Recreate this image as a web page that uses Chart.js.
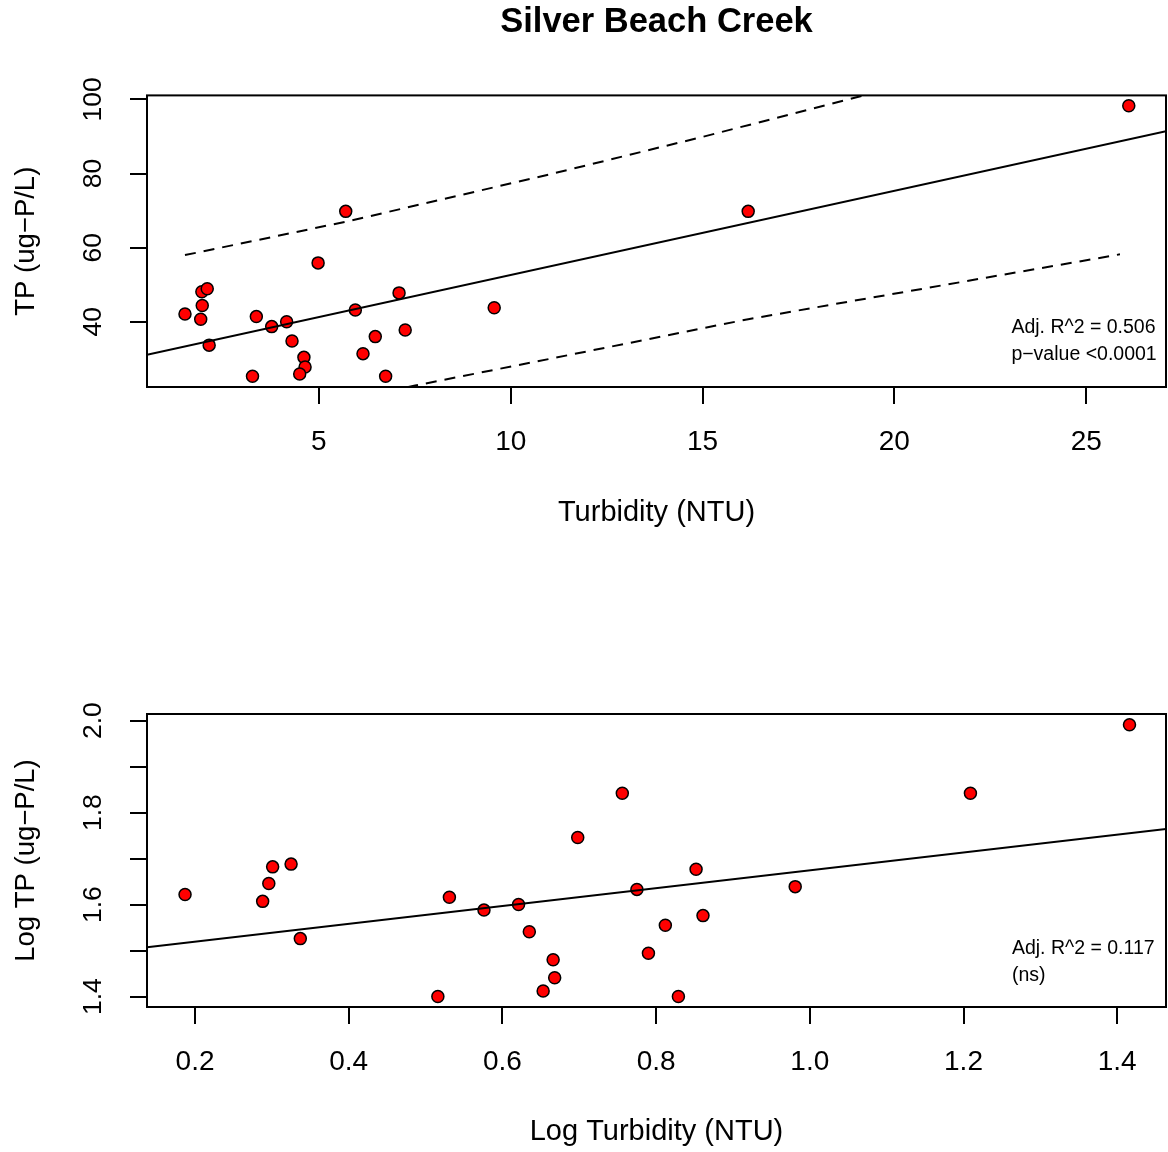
<!DOCTYPE html>
<html>
<head>
<meta charset="utf-8">
<script src="https://cdn.jsdelivr.net/npm/chart.js@4"></script>
<style>
  body { margin: 0; background: #fff; }
  .panel { position: absolute; left: 0; width: 1168px; height: 576px; }
</style>
</head>
<body>
<div class="panel" style="top:0"><canvas id="chartTop" width="1168" height="576"></canvas></div>
<div class="panel" style="top:576px"><canvas id="chartBottom" width="1168" height="576"></canvas></div>
<script>
// raw values
const turbidity = [1.51, 1.92, 1.96, 1.95, 2.09, 2.14, 3.27, 3.37, 3.77, 4.16, 4.30, 4.61, 4.64, 4.50, 4.98, 5.70, 5.95, 6.15, 6.47, 6.74, 7.09, 7.25, 9.57, 16.19, 26.11];
const tp = [42.1, 40.7, 44.4, 48.1, 48.9, 33.7, 25.3, 41.4, 38.7, 40.0, 34.8, 30.4, 27.8, 25.9, 55.9, 69.8, 43.2, 31.4, 36.0, 25.3, 47.8, 37.8, 43.8, 69.8, 98.3];

const logTurbidity = [0.187, 0.288, 0.296, 0.301, 0.325, 0.337, 0.516, 0.531, 0.576, 0.621, 0.635, 0.666, 0.668, 0.653, 0.698, 0.756, 0.775, 0.790, 0.812, 0.829, 0.852, 0.861, 0.981, 1.209, 1.416];
const logTp = [1.622, 1.607, 1.646, 1.682, 1.688, 1.526, 1.400, 1.616, 1.588, 1.600, 1.541, 1.480, 1.441, 1.412, 1.746, 1.842, 1.633, 1.494, 1.555, 1.400, 1.677, 1.576, 1.639, 1.842, 1.991];

// fitted line and prediction band
const fitX = [0.52, 27.08];
const fitY = [31.1, 91.4];
const upperX = [1.51, 5.70, 11.02, 15.0, 19.2, 25.88];
const upperY = [58.0, 67.0, 79.8, 89.9, 101.1, 119.1];
const lowerX = [1.51, 7.51, 11.02, 16.19, 25.88];
const lowerY = [8.6, 22.8, 30.0, 40.7, 58.2];

const logFitX = [0.1375, 1.4635];
const logFitY = [1.5074, 1.7645];

// axes
const xTicksTop = [5, 10, 15, 20, 25];
const yTicksTop = [40, 60, 80, 100];
const yLabelsTop = ['40', '60', '80', '100'];
const xTicksBottom = [0.2, 0.4, 0.6, 0.8, 1.0, 1.2, 1.4];
const xLabelsBottom = ['0.2', '0.4', '0.6', '0.8', '1.0', '1.2', '1.4'];
const yTicksBottom = [1.4, 1.5, 1.6, 1.7, 1.8, 1.9, 2.0];
const yLabelsBottom = ['1.4', '', '1.6', '', '1.8', '', '2.0'];

const notesTop = ['Adj. R^2 = 0.506', 'p\u2212value <0.0001'];
const notesBottom = ['Adj. R^2 = 0.117', '(ns)'];

const FONT = '"Liberation Sans", Arial, Helvetica, sans-serif';
Chart.defaults.font.family = FONT;
Chart.defaults.color = '#000';

function pts(xs, ys) {
    return xs.map((x, i) => ({ x: x, y: ys[i] }));
}

// box around plot region, rotated y labels, notes
const rStyle = {
    id: 'rStyle',
    afterDraw(chart, args, opts) {
        const ctx = chart.ctx;
        const a = chart.chartArea;
        const sx = chart.scales.x, sy = chart.scales.y;
        ctx.save();
        ctx.strokeStyle = '#000';
        ctx.lineWidth = 2;
        ctx.strokeRect(a.left, a.top, a.right - a.left, a.bottom - a.top);

        ctx.fillStyle = '#000';
        ctx.font = '26.5px ' + FONT;
        ctx.textAlign = 'center';
        ctx.textBaseline = 'middle';
        opts.yLabels.forEach(function (lab, i) {
            if (!lab) return;
            const y = sy.getPixelForValue(opts.yTicks[i]);
            ctx.save();
            ctx.translate(a.left - 53, y);
            ctx.rotate(-Math.PI / 2);
            ctx.fillText(lab, 0, 0);
            ctx.restore();
        });

        ctx.font = '19.5px ' + FONT;
        ctx.textAlign = 'left';
        opts.notes.forEach(function (line, i) {
            ctx.fillText(line, sx.getPixelForValue(opts.noteX), sy.getPixelForValue(opts.noteY[i]));
        });
        ctx.restore();
    }
};

function makeChart(id, cfg) {
    const tickGrid = { display: true, drawOnChartArea: false, drawTicks: true, tickLength: 17, color: '#000', lineWidth: 2 };
    const datasets = [
        {
            data: pts(cfg.px, cfg.py),
            backgroundColor: '#ff0000',
            borderColor: '#000',
            borderWidth: 1.5,
            pointRadius: 6,
            order: 1
        }
    ];
    cfg.lines.forEach(function (l) {
        datasets.push({
            data: pts(l.x, l.y),
            showLine: true,
            pointRadius: 0,
            borderColor: '#000',
            borderWidth: 2,
            borderDash: l.dash || [],
            fill: false,
            clip: 0,
            order: 0
        });
    });
    return new Chart(document.getElementById(id), {
        type: 'scatter',
        data: { datasets: datasets },
        plugins: [rStyle],
        options: {
            responsive: false,
            animation: false,
            devicePixelRatio: 1,
            layout: { autoPadding: false, padding: cfg.padding },
            plugins: {
                legend: { display: false },
                tooltip: { enabled: false },
                title: cfg.title,
                rStyle: { yLabels: cfg.yLabels, yTicks: cfg.yTicks, notes: cfg.notes, noteX: cfg.noteX, noteY: cfg.noteY }
            },
            scales: {
                x: {
                    type: 'linear',
                    min: cfg.xMin, max: cfg.xMax,
                    afterBuildTicks: function (s) { s.ticks = cfg.xTicks.map(v => ({ value: v })); },
                    afterFit: function (s) {
                        s.height = cfg.xAxisHeight;
                        s.paddingLeft = 0; s.paddingRight = 0;
                    },
                    ticks: {
                        autoSkip: false, maxRotation: 0, padding: 21,
                        font: { size: 28 },
                        callback: function (v, i) { return cfg.xLabels[i]; }
                    },
                    grid: tickGrid,
                    border: { display: false },
                    title: { display: true, text: cfg.xTitle, font: { size: 29 }, padding: { top: 0, bottom: cfg.xTitlePad } }
                },
                y: {
                    type: 'linear',
                    min: cfg.yMin, max: cfg.yMax,
                    afterBuildTicks: function (s) { s.ticks = cfg.yTicks.map(v => ({ value: v })); },
                    afterFit: function (s) {
                        s.width = 147;
                        s.paddingTop = 0; s.paddingBottom = 0;
                    },
                    ticks: { display: false },
                    grid: tickGrid,
                    border: { display: false },
                    title: { display: true, text: cfg.yTitle, font: { size: 27.5 }, padding: { top: 10, bottom: 0 } }
                }
            }
        }
    });
}

makeChart('chartTop', {
    px: turbidity, py: tp,
    lines: [
        { x: fitX, y: fitY },
        { x: upperX, y: upperY, dash: [11, 8] },
        { x: lowerX, y: lowerY, dash: [11, 8] }
    ],
    xMin: 0.52, xMax: 27.08, yMin: 22.4, yMax: 101.1,
    xTicks: xTicksTop, xLabels: xTicksTop.map(String),
    yTicks: yTicksTop, yLabels: yLabelsTop,
    xTitle: 'Turbidity (NTU)', yTitle: 'TP (ug\u2212P/L)',
    xAxisHeight: 189, xTitlePad: 46,
    padding: { left: 0, right: 2, top: 0, bottom: 0 },
    title: {
        display: true, text: 'Silver Beach Creek', fullSize: false,
        font: { size: 34.5, weight: 'bold' }, color: '#000',
        padding: { top: 2, bottom: 52 }
    },
    notes: notesTop, noteX: 23.05, noteY: [38.4, 31.1]
});

makeChart('chartBottom', {
    px: logTurbidity, py: logTp,
    lines: [
        { x: logFitX, y: logFitY }
    ],
    xMin: 0.1375, xMax: 1.4635, yMin: 1.3773, yMax: 2.0144,
    xTicks: xTicksBottom, xLabels: xLabelsBottom,
    yTicks: yTicksBottom, yLabels: yLabelsBottom,
    xTitle: 'Log Turbidity (NTU)', yTitle: 'Log TP (ug\u2212P/L)',
    xAxisHeight: 145, xTitlePad: 3,
    padding: { left: 0, right: 2, top: 138, bottom: 0 },
    title: { display: false },
    notes: notesBottom, noteX: 1.263, noteY: [1.505, 1.4464]
});
</script>
</body>
</html>
